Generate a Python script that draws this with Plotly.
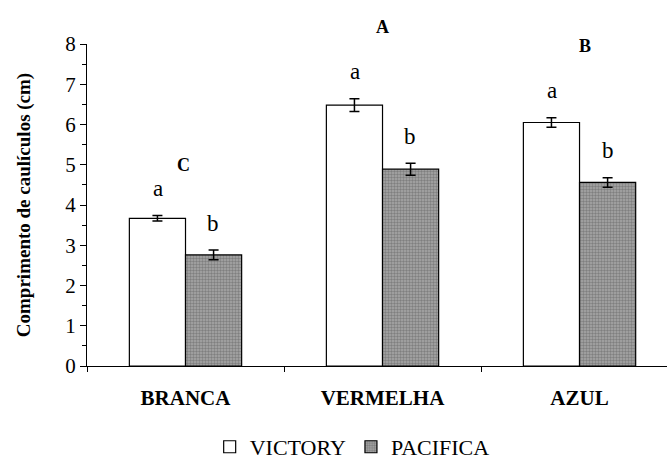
import plotly.graph_objects as go

# Light treatments and seedling hypocotyl length (cm) for two lettuce cultivars
categories = ["BRANCA", "VERMELHA", "AZUL"]
victory = [3.67, 6.48, 6.05]
victory_err = [0.07, 0.16, 0.12]
pacifica = [2.76, 4.89, 4.56]
pacifica_err = [0.12, 0.15, 0.12]

# Letters of the mean-comparison test
victory_letters = ["a", "a", "a"]
pacifica_letters = ["b", "b", "b"]
group_letters = ["C", "A", "B"]
group_letter_y = [5.0, 8.42, 7.95]
group_letter_dx = [-0.01, 0.0, 0.03]

SERIF = "Liberation Serif"
Y_MAX = 8

fig = go.Figure()
fig.add_trace(go.Bar(
    name="VICTORY", x=categories, y=victory,
    marker=dict(color="white", line=dict(color="black", width=1.2)),
    error_y=dict(type="data", array=victory_err, color="black", thickness=1.5, width=5),
))
fig.add_trace(go.Bar(
    name="PACIFICA", x=categories, y=pacifica,
    marker=dict(color="#9a9a9a", line=dict(color="black", width=1.2),
                pattern=dict(shape=".", fgcolor="#555555", bgcolor="#a8a8a8",
                             size=3, solidity=0.5)),
    error_y=dict(type="data", array=pacifica_err, color="black", thickness=1.5, width=5),
))

annotations = []
for i, cat in enumerate(categories):
    annotations.append(dict(x=i - 0.142, y=victory[i] + victory_err[i], xref="x", yref="y",
                            text=victory_letters[i], showarrow=False, yanchor="middle",
                            yshift=27, font=dict(family=SERIF, size=23, color="black")))
    annotations.append(dict(x=i + 0.142, y=pacifica[i] + pacifica_err[i], xref="x", yref="y",
                            text=pacifica_letters[i], showarrow=False, yanchor="middle",
                            yshift=27, font=dict(family=SERIF, size=23, color="black")))
    annotations.append(dict(x=i + group_letter_dx[i], y=group_letter_y[i] / Y_MAX,
                            xref="x", yref="paper",
                            text="<b>%s</b>" % group_letters[i], showarrow=False,
                            yanchor="middle",
                            font=dict(family=SERIF, size=18, color="black")))

fig.update_layout(
    width=667, height=468,
    margin=dict(l=87, r=0, t=44, b=102),
    paper_bgcolor="white", plot_bgcolor="white",
    barmode="group", bargap=0.43, bargroupgap=0,
    font=dict(family=SERIF, color="black"),
    annotations=annotations,
    legend=dict(orientation="h", xref="container", yref="container",
                x=0.528, xanchor="center", y=0.045, yanchor="middle",
                font=dict(family=SERIF, size=22, color="black"),
                itemwidth=30, tracegroupgap=0),
    xaxis=dict(
        range=[-0.5, 2.444], showline=True, linecolor="black", linewidth=1,
        ticks="outside", tickson="boundaries", ticklen=5, tickcolor="black",
        tickfont=dict(family=SERIF, size=21, color="black"),
        tickvals=[0, 1, 2], ticktext=["<b>%s</b>" % c for c in categories],
        ticklabelstandoff=13, showgrid=False, zeroline=False,
    ),
    yaxis=dict(
        range=[0, Y_MAX], dtick=1, showline=True, linecolor="black", linewidth=1,
        ticks="outside", ticklen=6, tickcolor="black",
        minor=dict(dtick=0.5, ticks="outside", ticklen=4, tickcolor="black", showgrid=False),
        tickfont=dict(family=SERIF, size=21, color="black"),
        showgrid=False, zeroline=False,
        title=dict(text="<b>Comprimento de caulículos (cm)</b>",
                   font=dict(family=SERIF, size=19, color="black"), standoff=29),
    ),
)

fig.write_html("out.html")
